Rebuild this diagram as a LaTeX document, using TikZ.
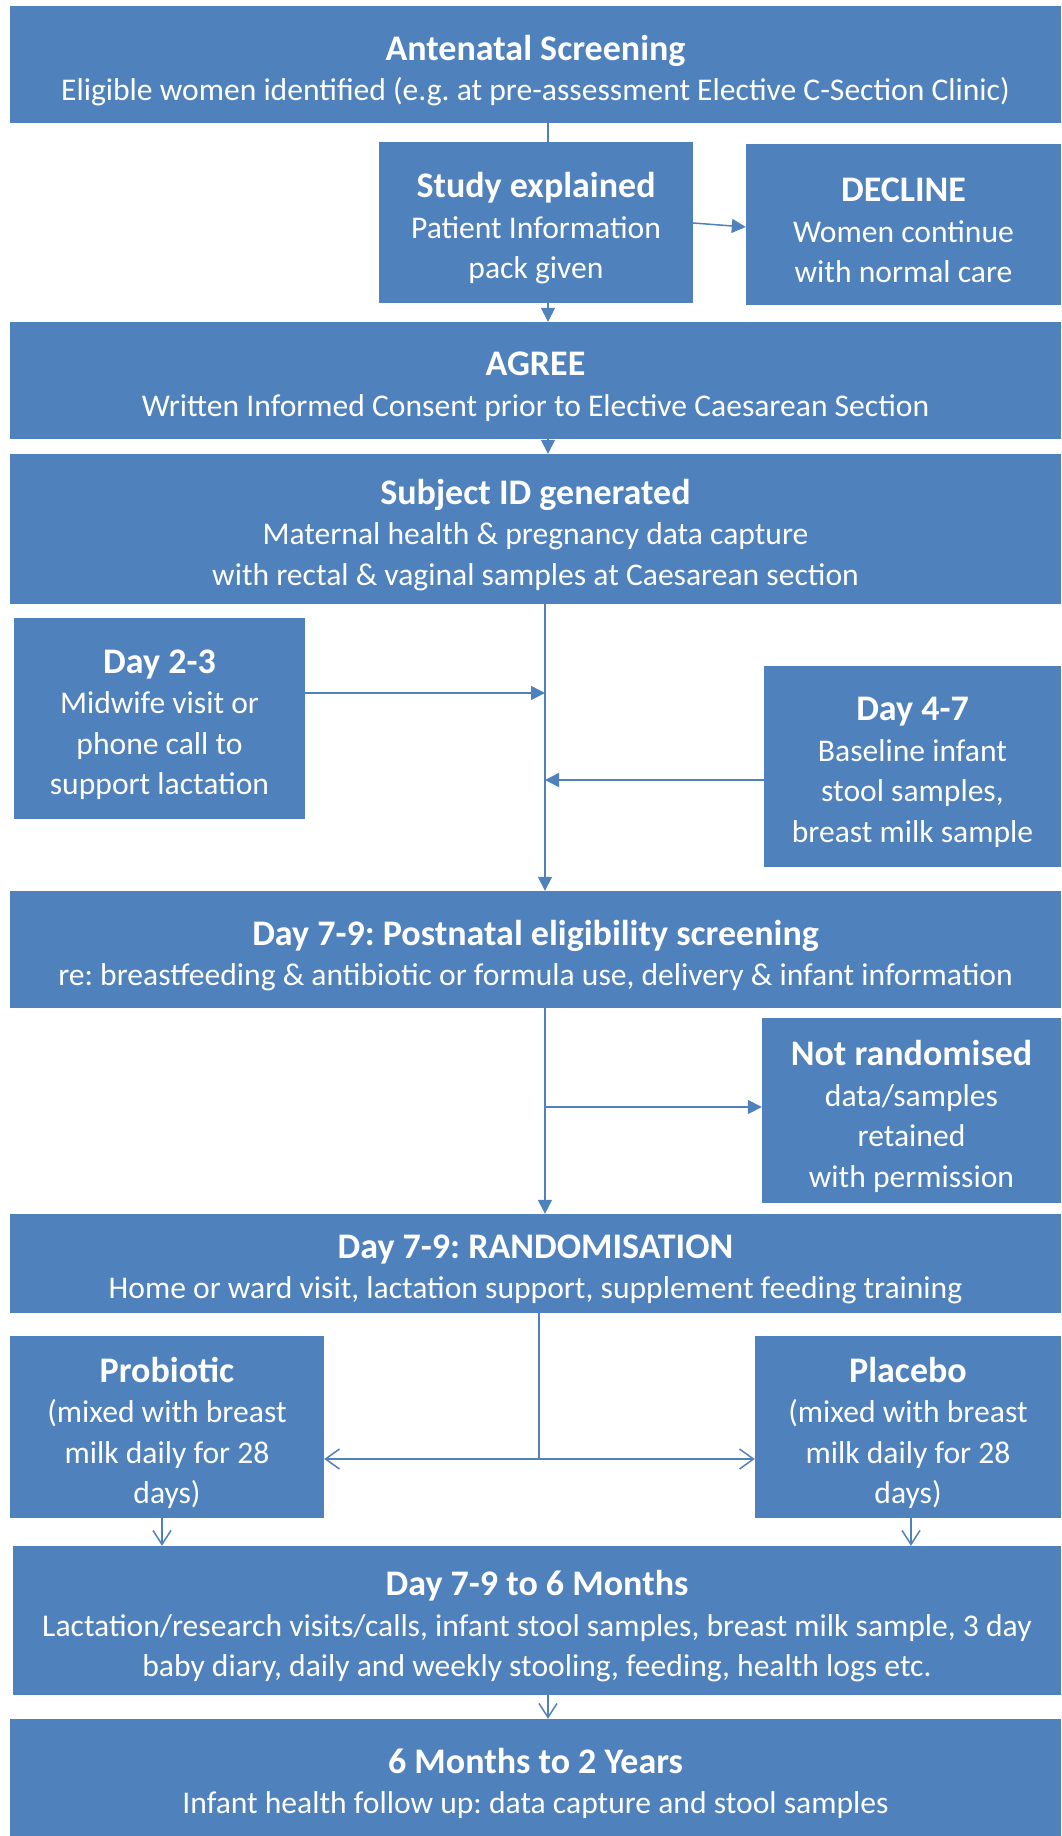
\documentclass[tikz,border=0pt]{standalone}
\usepackage{fontspec}
\setmainfont{Carlito}
\usetikzlibrary{arrows.meta}
\definecolor{boxblue}{HTML}{4F81BD}
\newcommand\bodyfont{\frenchspacing\fontsize{31.6}{40.5}\selectfont}
\newcommand\ttl[1]{{\fontsize{36}{40.5}\selectfont\bfseries #1}}
\tikzset{
 box/.style={fill=boxblue, inner sep=0pt},
 boxtext/.style={text=white, inner sep=0pt, align=center, font=\bodyfont},
 fa/.style={draw=boxblue, line width=1.5pt, -{Triangle[width=14pt,length=14pt]}},
 oa/.style={draw=boxblue, line width=1.5pt, -{Straight Barb[width=18pt,length=14pt]}},
 da/.style={draw=boxblue, line width=1.5pt, {Straight Barb[width=20pt,length=14pt]}-{Straight Barb[width=20pt,length=14pt]}},
 ln/.style={draw=boxblue, line width=1.5pt},
}
\newcommand\flowbox[6]{\node[box, minimum width={(#3-#2)*1pt}, minimum height={(#5-#4)*1pt}] (#1) at ({(#2+#3)/2},{(#4+#5)/2}) {};
\node[boxtext, yshift=-6pt] (#1-t) at (#1.center) {#6};}
\begin{document}
\begin{tikzpicture}[x=1pt,y=-1pt]
\useasboundingbox (0,0) rectangle (1061,1836);
\fill[white] (0,0) rectangle (1061,1836);
\flowbox{screen}{10}{1061}{6}{123}{\ttl{Antenatal Screening}\\Eligible women identified (e.g. at pre-assessment Elective C-Section Clinic)}
\flowbox{study}{379}{693}{142}{303}{\ttl{Study explained}\\Patient Information\\pack given}
\flowbox{decline}{746}{1061}{144}{305}{\ttl{DECLINE}\\Women continue\\with normal care}
\flowbox{agree}{10}{1061}{322}{439}{\ttl{AGREE}\\Written Informed Consent prior to Elective Caesarean Section}
\flowbox{subject}{10}{1061}{454}{604}{\ttl{Subject ID generated}\\Maternal health \& pregnancy data capture\\with rectal \& vaginal samples at Caesarean section}
\flowbox{day23}{14}{305}{618}{819}{\ttl{Day 2-3}\\Midwife visit or\\phone call to\\support lactation}
\flowbox{day47}{764}{1061}{666}{867}{\ttl{Day 4-7}\\Baseline infant\\stool samples,\\breast milk sample}
\flowbox{postnatal}{10}{1061}{891}{1008}{\ttl{Day 7-9: Postnatal eligibility screening}\\re: breastfeeding \& antibiotic or formula use, delivery \& infant information}
\flowbox{notrand}{762}{1061}{1018}{1203}{\ttl{Not randomised}\\data/samples\\retained\\with permission}
\flowbox{rand}{10}{1061}{1214}{1313}{\ttl{Day 7-9: RANDOMISATION}\\Home or ward visit, lactation support, supplement feeding training}
\flowbox{probiotic}{10}{324}{1336}{1518}{\ttl{Probiotic}\\(mixed with breast\\milk daily for 28\\days)}
\flowbox{placebo}{755}{1061}{1336}{1518}{\ttl{Placebo}\\(mixed with breast\\milk daily for 28\\days)}
\flowbox{followa}{13}{1061}{1546}{1695}{\ttl{Day 7-9 to 6 Months}\\Lactation/research visits/calls, infant stool samples, breast milk sample, 3 day\\baby diary, daily and weekly stooling, feeding, health logs etc.}
\flowbox{followb}{10}{1061}{1719}{1836}{\ttl{6 Months to 2 Years}\\Infant health follow up: data capture and stool samples}
% guide coordinates
\coordinate (xa) at (548,0);
\coordinate (xb) at (545,0);
\coordinate (xc) at (539,0);
\coordinate (ya) at (0,693);
\coordinate (yb) at (0,780);
\coordinate (yc) at (0,1107);
\coordinate (yd) at (0,1459);
\coordinate (xp) at (162,0);
\coordinate (xq) at (911,0);
\coordinate (j1) at (xb |- yc);
\coordinate (j2) at (xc |- yd);
% connectors
\draw[ln] (screen.south -| xa) -- (study.north -| xa);
\draw[fa] (study.east |- 0,223) -- (decline.west |- 0,227);
\draw[fa] (study.south -| xa) -- (agree.north -| xa);
\draw[fa] (agree.south -| xa) -- (subject.north -| xa);
\draw[fa] (subject.south -| xb) -- (postnatal.north -| xb);
\draw[fa] (day23.east |- ya) -- (xb |- ya);
\draw[fa] (day47.west |- yb) -- (xb |- yb);
\draw[fa] (postnatal.south -| xb) -- (rand.north -| xb);
\draw[fa] (j1) -- (notrand.west |- j1);
\draw[ln] (rand.south -| xc) -- (j2);
\draw[da] (probiotic.east |- j2) -- (placebo.west |- j2);
\draw[oa] (probiotic.south -| xp) -- (followa.north -| xp);
\draw[oa] (placebo.south -| xq) -- (followa.north -| xq);
\draw[oa] (followa.south -| xa) -- (followb.north -| xa);
\end{tikzpicture}
\end{document}
